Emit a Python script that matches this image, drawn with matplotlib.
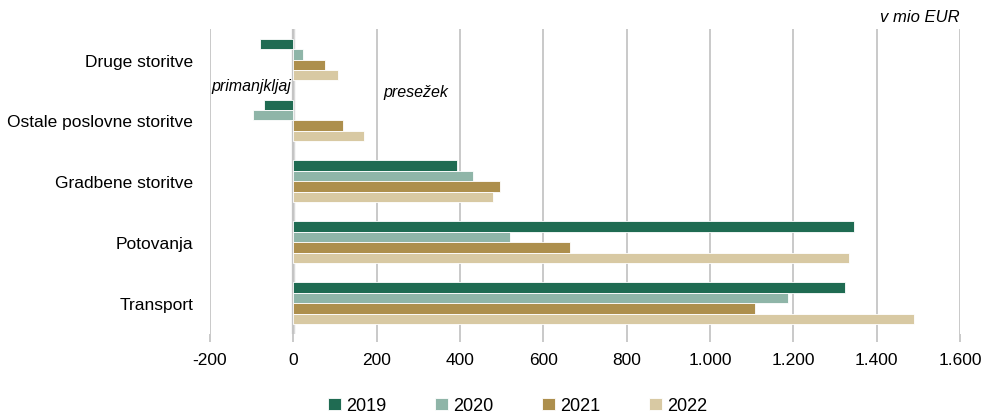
import numpy as np
import matplotlib.pyplot as plt
from matplotlib.ticker import FuncFormatter

plt.rcParams["font.family"] = ["Liberation Sans", "DejaVu Sans"]

categories = ["Druge storitve", "Ostale poslovne storitve", "Gradbene storitve",
              "Potovanja", "Transport"]
years = ["2019", "2020", "2021", "2022"]
v2019 = [-80, -70, 393, 1345, 1325]
v2020 = [22, -98, 430, 520, 1188]
v2021 = [77, 118, 496, 664, 1109]
v2022 = [108, 170, 479, 1334, 1490]
colors = ["#1f6b52", "#8fb5a8", "#ad8f4d", "#d8c9a3"]

series = [v2019, v2020, v2021, v2022]

fig = plt.figure(figsize=(9.87, 4.14), dpi=100)
ax = fig.add_axes([0.2128, 0.191, 0.7598, 0.7365])

y = np.arange(len(categories))
h = 0.172
for i, (vals, col, lab) in enumerate(zip(series, colors, years)):
    ax.barh(y + (i - 1.5) * h, vals, height=h, color=col, label=lab,
            edgecolor="white", linewidth=0.6, zorder=3)

ax.set_ylim(len(categories) - 0.5, -0.5)
ax.set_xlim(-200, 1600)
ax.set_xticks(range(-200, 1601, 200))
ax.xaxis.set_major_formatter(
    FuncFormatter(lambda v, p: f"{int(v):,}".replace(",", ".")))
ax.set_yticks(y)
ax.set_yticklabels(categories)

ax.grid(axis="x", color="#c0c0c0", linewidth=1.2, zorder=0)
ax.axvline(0, color="#d9d9d9", linewidth=2.5, zorder=1)
for s in ax.spines.values():
    s.set_visible(False)
ax.tick_params(axis="x", length=6, color="#c0c0c0", width=1.2,
               labelsize=12.5, pad=7)
ax.tick_params(axis="y", length=0, labelsize=12.5, pad=12)

ax.text(-100, 0.43, "primanjkljaj", style="italic", fontsize=11.5,
        ha="center", va="center")
ax.text(293, 0.52, "presežek", style="italic", fontsize=11.5,
        ha="center", va="center")
fig.text(0.932, 0.958, "v mio EUR", style="italic", fontsize=12,
         ha="center", va="center")

ax.legend(loc="upper center", bbox_to_anchor=(0.41, -0.155), ncol=4,
          frameon=False, fontsize=13, handlelength=0.7, handleheight=0.7,
          columnspacing=2.7, handletextpad=0.3)

fig.savefig("out.png", dpi=100)
